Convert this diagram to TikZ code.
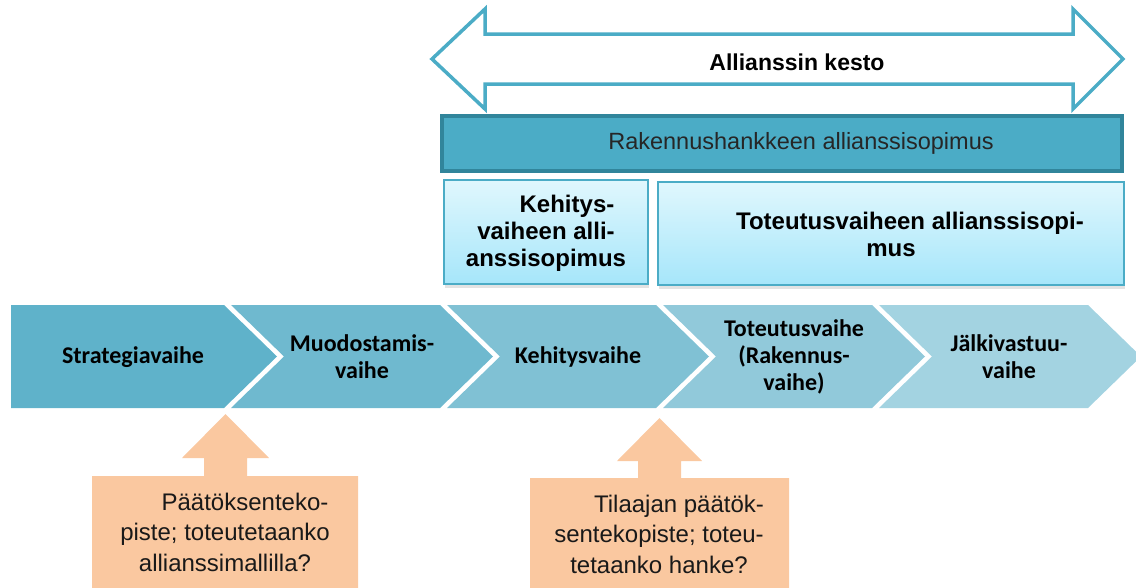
\documentclass[tikz,border=0pt]{standalone}
\usepackage{fontspec}
\setmainfont{Liberation Sans}
\newfontfamily\calibri{Carlito}
\usetikzlibrary{shadows}
\definecolor{tealline}{RGB}{75,172,198}
\definecolor{tealdark}{RGB}{49,133,155}
\definecolor{boxtop}{RGB}{224,247,253}
\definecolor{boxbot}{RGB}{166,230,250}
\definecolor{peach}{RGB}{250,200,160}
\definecolor{phaseA}{RGB}{95,178,202}
\definecolor{phaseB}{RGB}{111,185,207}
\definecolor{phaseC}{RGB}{128,193,212}
\definecolor{phaseD}{RGB}{145,201,218}
\definecolor{phaseE}{RGB}{163,211,225}
\def\chevron[#1](#2:#3){\fill[#1] (#2, 305) -- (#3, 305) -- (#3+53, 356.5) -- (#3, 408) -- (#2, 408) -- (#2+53, 356.5) -- cycle;}
\tikzset{
	phase/.style={font=\calibri\bfseries\fontsize{24}{27}\selectfont, align=center},
	boxtext/.style={font=\bfseries\fontsize{24}{27}\selectfont, align=center},
	calltext/.style={font=\fontsize{24}{30.5}\selectfont, align=center, text=black!90},
	sopbox/.style={top color=boxtop, bottom color=boxbot, draw=tealline, line width=1.2,
		drop shadow={opacity=0.22, shadow xshift=1pt, shadow yshift=-4pt}}
}

\begin{document}
\begin{tikzpicture}[x=1pt, y=-1pt]
			%%%%% START %%%%%
			
			\clip (0, 0) rectangle (1136, 587);
			
			\draw[tealline, line width=3.5] (432, 59) -- (485, 9) -- (485, 34) -- (1073, 34) -- (1073, 9) -- (1123, 59) -- (1073, 109) -- (1073, 84) -- (485, 84) -- (485, 109) -- cycle;
			\node[font=\bfseries\fontsize{23}{27}\selectfont] (kesto) at (797, 62) {Allianssin kesto};
			
			\draw[fill=tealline, draw=tealdark, line width=3.5] (442, 116) rectangle (1122, 171);
			\node[font=\fontsize{23.5}{27}\selectfont, text=black!85] (rakennus) at (801, 143) {Rakennushankkeen allianssisopimus};
			
			\draw[sopbox] (444, 180) rectangle (648, 284);
			\draw[sopbox] (658, 182) rectangle (1124, 285);
			\node[boxtext] (kehsop) at (546, 233) {\hspace*{42pt}Kehitys-\\vaiheen alli-\\anssisopimus};
			\node[boxtext] (totsop) at (891, 234) {\hspace*{38pt}Toteutusvaiheen allianssisopi-\\mus};
			
			\fill[phaseA] (11, 305) -- (224, 305) -- (277, 356.5) -- (224, 408) -- (11, 408) -- cycle;
			\chevron[phaseB](231:440)
			\chevron[phaseC](447:656)
			\chevron[phaseD](663:872)
			\chevron[phaseE](879:1088)
			
			\node[phase] (strat) at (133, 357) {Strategiavaihe};
			\node[phase] (muod) at (362, 357) {Muodostamis-\\vaihe};
			\node[phase] (kehit) at (578, 357) {Kehitysvaihe};
			\node[phase] (toteut) at (794, 357) {Toteutusvaihe\\(Rakennus-\\vaihe)};
			\node[phase] (jalki) at (1009, 357) {Jälkivastuu-\\vaihe};
			
			\fill[peach] (92, 476) -- (204, 476) -- (204, 458) -- (182, 458) -- (225.5, 414) -- (269, 458) -- (247, 458) -- (247, 476) -- (358, 476) -- (358, 600) -- (92, 600) -- cycle;
			\fill[peach] (530, 478) -- (638, 478) -- (638, 461) -- (617, 461) -- (659.5, 418) -- (702, 461) -- (681, 461) -- (681, 478) -- (789, 478) -- (789, 600) -- (530, 600) -- cycle;
			\node[calltext] (paatos1) at (225, 532) {\hspace*{40pt}Päätöksenteko-\\piste; toteutetaanko\\allianssimallilla?};
			\node[calltext] (paatos2) at (659, 534) {\hspace*{40pt}Tilaajan päätök-\\sentekopiste; toteu-\\tetaanko hanke?};
			
			%%%%% END %%%%%
\end{tikzpicture}
\end{document}
